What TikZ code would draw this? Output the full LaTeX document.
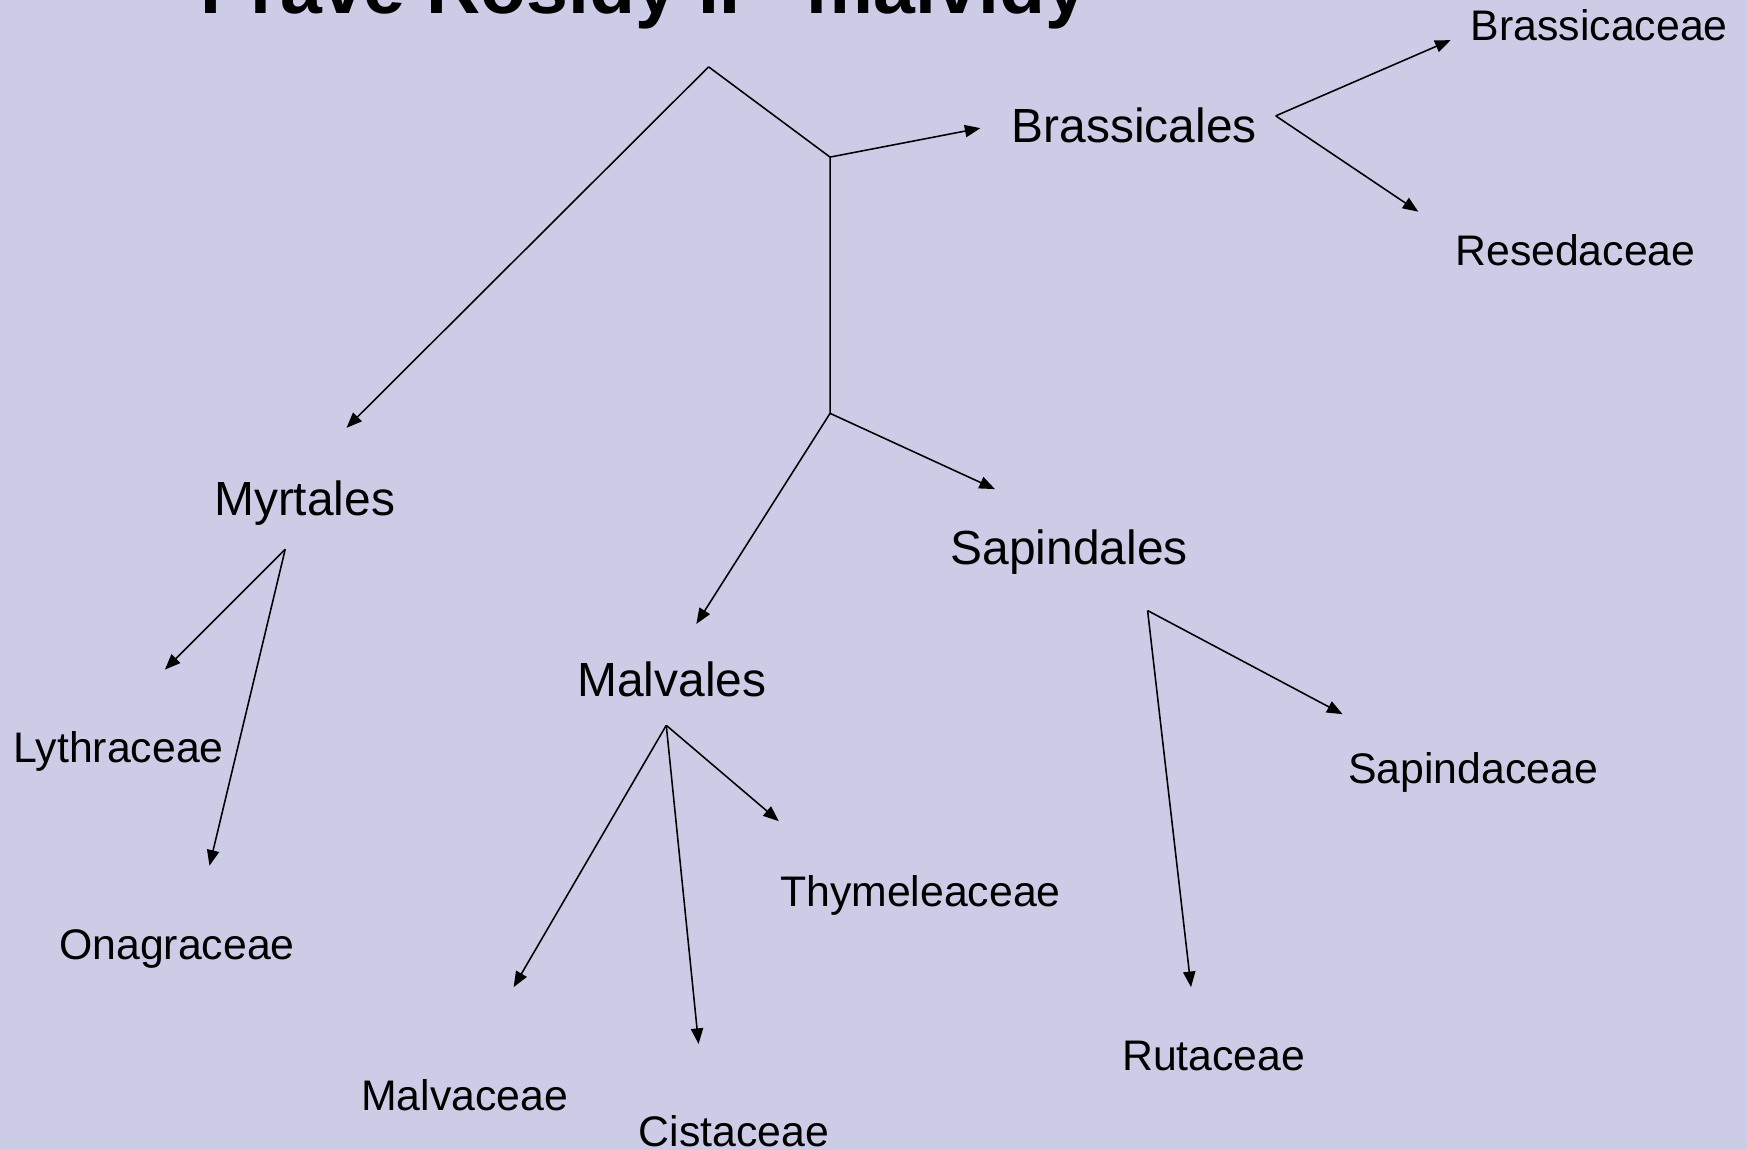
\documentclass[tikz,border=0pt]{standalone}
\usepackage{fontspec}
\setmainfont{Liberation Sans}
\usetikzlibrary{arrows.meta}
\definecolor{bg}{RGB}{204,204,230}
\begin{document}
\begin{tikzpicture}[x=1pt,y=-1pt,
  lnk/.style={line width=1.4pt,line join=miter},
  arr/.style={lnk,-{Triangle[length=14pt,width=11pt]}},
  ordr/.style={anchor=base west,inner sep=0pt,font=\fontsize{43}{50}\selectfont},
  fam/.style={anchor=base west,inner sep=0pt,font=\fontsize{38.4}{45}\selectfont},
  ttl/.style={anchor=base west,inner sep=0pt,font=\fontsize{67.5}{70}\selectfont\bfseries}]
\fill[bg] (0,0) rectangle (1568,1032);
\useasboundingbox (0,0) rectangle (1568,1032);
\node[ttl] (title) at (180,12) {Pravé Rosidy II - malvidy};
% order nodes
\node[ordr] (brassicales) at (908,128) {Brassicales};
\node[ordr] (myrtales) at (192,463) {Myrtales};
\node[ordr] (malvales) at (518,625) {Malvales};
\node[ordr] (sapindales) at (853,507) {Sapindales};
% family nodes
\node[fam] (brassicaceae) at (1320,36) {Brassicaceae};
\node[fam] (resedaceae) at (1306,238) {Resedaceae};
\node[fam] (lythraceae) at (12,684) {Lythraceae};
\node[fam] (onagraceae) at (53,861) {Onagraceae};
\node[fam] (malvaceae) at (324,997) {Malvaceae};
\node[fam] (cistaceae) at (573,1029) {Cistaceae};
\node[fam] (thymeleaceae) at (700,814) {Thymeleaceae};
\node[fam] (sapindaceae) at (1210,703) {Sapindaceae};
\node[fam] (rutaceae) at (1007,961) {Rutaceae};
% junctions and arrow ends
\coordinate (apex) at (636,60);
\coordinate (j1) at (745,141);
\coordinate (j2) at (745,371);
\coordinate (brassEnd) at (880,115);
\coordinate (myrtEnd) at (311,384);
\coordinate (malvEnd) at (625,560);
\coordinate (sapEnd) at (893,439);
\coordinate (jb) at (1145,104);
\coordinate (brcEnd) at (1302,36);
\coordinate (resEnd) at (1273,190);
\coordinate (jm) at (256,493);
\coordinate (lytEnd) at (148,601);
\coordinate (onaEnd) at (188,777);
\coordinate (jv) at (598,651);
\coordinate (mlvEnd) at (461,886);
\coordinate (cisEnd) at (627,937);
\coordinate (thyEnd) at (699,737);
\coordinate (js) at (1030,548);
\coordinate (sdcEnd) at (1205,641);
\coordinate (rutEnd) at (1069,886);
% connectors
\draw[lnk] (apex) -- (j1) -- (j2);
\draw[arr] (apex) -- (myrtEnd);
\draw[arr] (j1) -- (brassEnd);
\draw[arr] (j2) -- (malvEnd);
\draw[arr] (j2) -- (sapEnd);
\draw[arr] (jb) -- (brcEnd);
\draw[arr] (jb) -- (resEnd);
\draw[arr] (jm) -- (lytEnd);
\draw[arr] (jm) -- (onaEnd);
\draw[arr] (jv) -- (mlvEnd);
\draw[arr] (jv) -- (cisEnd);
\draw[arr] (jv) -- (thyEnd);
\draw[arr] (js) -- (sdcEnd);
\draw[arr] (js) -- (rutEnd);
\end{tikzpicture}
\end{document}
